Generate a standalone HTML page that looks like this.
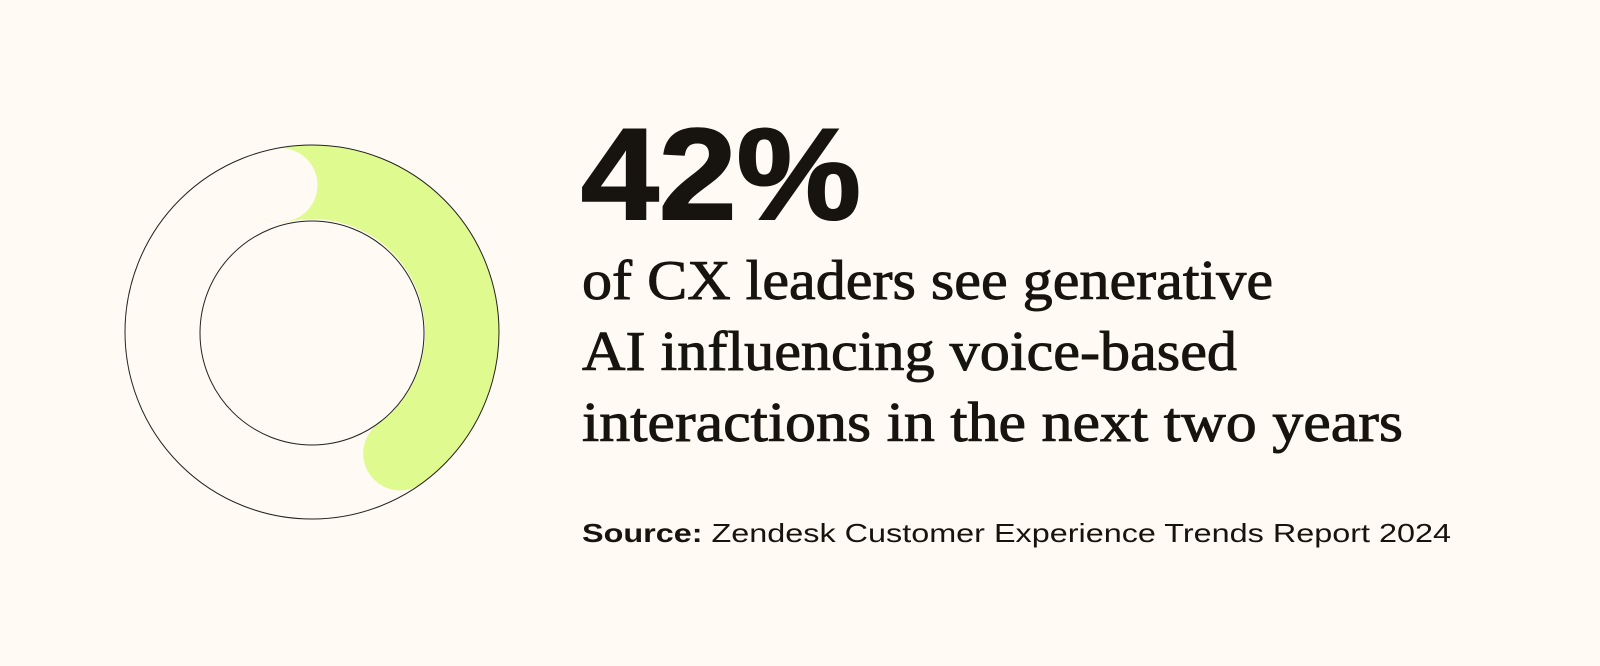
<!DOCTYPE html>
<html><head><meta charset="utf-8"><style>
html,body{margin:0;padding:0;background:#fffaf3;}
svg{display:block}
</style></head><body>
<svg width="1600" height="666" viewBox="0 0 1600 666" xmlns="http://www.w3.org/2000/svg">
<rect width="1600" height="666" fill="#fffaf3"/>
<path d="M 280.8 185.3 A 150 150 0 0 1 400.2 453.4" fill="none" stroke="#dffa8f" stroke-width="74" stroke-linecap="round"/>
<path d="M 280.8 185.3 A 150 150 0 0 1 312 182" fill="none" stroke="#dffa8f" stroke-width="74"/>
<circle cx="280.5" cy="185" r="37" fill="#fffaf3"/>
<circle cx="312" cy="332" r="187" fill="none" stroke="#222" stroke-width="1"/>
<circle cx="312" cy="333" r="112" fill="none" stroke="#222" stroke-width="1"/>
<text x="581" y="219" font-family="Liberation Sans, sans-serif" font-weight="bold" font-size="130" fill="#17140f" stroke="#17140f" stroke-width="2" textLength="280" lengthAdjust="spacingAndGlyphs">42%</text>
<g font-family="Liberation Serif, serif" font-size="56" fill="#17140f" stroke="#17140f" stroke-width="0.9">
<text x="582" y="299" textLength="691" lengthAdjust="spacingAndGlyphs">of CX leaders see generative</text>
<text x="582" y="370" textLength="655" lengthAdjust="spacingAndGlyphs">AI influencing voice-based</text>
<text x="582" y="441" textLength="821" lengthAdjust="spacingAndGlyphs">interactions in the next two years</text>
</g>
<text x="582" y="542" font-family="Liberation Sans, sans-serif" font-size="26" fill="#17140f" textLength="869" lengthAdjust="spacingAndGlyphs"><tspan font-weight="bold">Source:</tspan> Zendesk Customer Experience Trends Report 2024</text>
</svg>
</body></html>
